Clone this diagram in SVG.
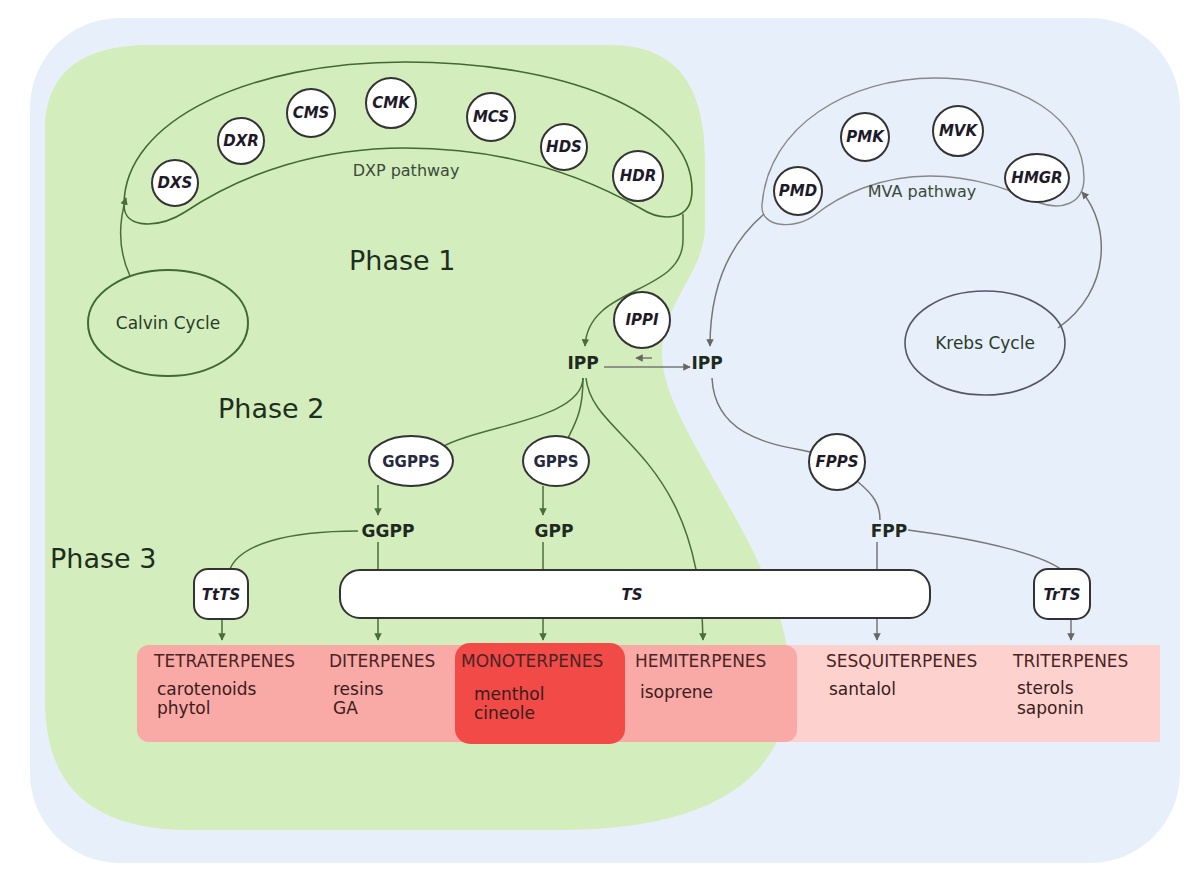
<svg xmlns="http://www.w3.org/2000/svg" width="1204" height="884" viewBox="0 0 1204 884">
<defs>
<marker id="ag" viewBox="0 0 10 10" refX="9" refY="5" markerWidth="5" markerHeight="5" orient="auto"><path d="M0,0 L10,5 L0,10 z" fill="#4a6e3a"/></marker>
<marker id="ab" viewBox="0 0 10 10" refX="9" refY="5" markerWidth="5" markerHeight="5" orient="auto"><path d="M0,0 L10,5 L0,10 z" fill="#666"/></marker>
<style>
.cg{fill:none;stroke:#4a6e3a;stroke-width:1.5}
.cb{fill:none;stroke:#777;stroke-width:1.5}
.enz{fill:#fff;stroke:#333;stroke-width:2}
.et{font-family:"DejaVu Sans",sans-serif;font-size:15px;font-weight:bold;font-style:italic;fill:#1e1a2a;text-anchor:middle}
.eu{font-family:"DejaVu Sans",sans-serif;font-size:15px;font-weight:bold;fill:#262a40;text-anchor:middle}
.met{font-family:"DejaVu Sans",sans-serif;font-size:17px;font-weight:bold;fill:#1e2a1e;text-anchor:middle}
.ph{font-family:"DejaVu Sans",sans-serif;font-size:27px;fill:#1e2e1e}
.sm{font-family:"DejaVu Sans",sans-serif;font-size:16px;fill:#3a4a3a;text-anchor:middle}
.cy{font-family:"DejaVu Sans",sans-serif;font-size:17px;fill:#2a3a2a;text-anchor:middle}
.hd{font-family:"DejaVu Sans",sans-serif;font-size:17px;fill:#4a2424}
.it{font-family:"DejaVu Sans",sans-serif;font-size:17px;fill:#3a1c1c}
</style>
</defs>
<rect x="0" y="0" width="1204" height="884" fill="#ffffff"/>
<g id="background">
<rect x="30" y="18" width="1150" height="845" rx="90" fill="#e7f0fa"/>
<path d="M 45 130 C 45 70 85 45 150 45 L 610 45 C 680 45 705 90 705 160 L 705 225 C 705 275 662 300 662 355 C 662 430 790 560 790 680 C 790 785 700 830 560 830 L 190 830 C 90 830 45 785 45 700 Z" fill="#d4edbd"/>
</g>
<g id="dxp-pathway">
<path d="M 124 205 C 124 120 250 62 405 62 C 560 62 692 110 692 190 C 692 222 662 222 640 208 C 570 168 490 148 405 148 C 320 148 245 172 185 212 C 160 228 124 230 124 205 Z" fill="none" stroke="#3f6a30" stroke-width="1.6"/>
<text class="sm" x="406" y="176">DXP pathway</text>
</g>
<g id="mva-pathway">
<path d="M 762 205 C 768 125 850 78 935 78 C 1020 78 1084 118 1084 178 C 1084 205 1060 210 1040 203 C 1010 190 975 176 930 176 C 880 176 840 195 815 215 C 795 230 760 228 762 205 Z" fill="none" stroke="#888" stroke-width="1.4"/>
<text class="sm" x="922" y="197" fill="#556">MVA pathway</text>
</g>
<g id="connectors">
<path class="cg" d="M 130 276 C 118 250 118 225 126 198" marker-end="url(#ag)"/>
<path class="cb" d="M 1058 328 C 1112 290 1110 225 1082 192" marker-end="url(#ab)"/>
<path class="cg" d="M 683 214 L 683 240 C 683 295 588 285 585 346" marker-end="url(#ag)"/>
<path class="cb" d="M 764 214 C 722 250 710 300 710 346" marker-end="url(#ab)"/>
<path class="cb" d="M 604 367 L 690 367" marker-end="url(#ab)"/>
<path class="cb" d="M 652 358 L 636 358" stroke-width="1" marker-end="url(#ab)"/>
<path class="cg" d="M 583 378 C 582 420 480 425 440 448"/>
<path class="cg" d="M 583 378 C 583 410 576 422 568 438"/>
<path class="cg" d="M 586 378 C 592 440 700 450 703 640" marker-end="url(#ag)"/>
<path class="cb" d="M 712 378 C 715 440 780 445 810 452"/>
<path class="cg" d="M 378 485 L 378 515" marker-end="url(#ag)"/>
<path class="cg" d="M 358 531 C 285 531 240 545 230 569"/>
<path class="cg" d="M 378 542 L 378 640" marker-end="url(#ag)"/>
<path class="cg" d="M 543 486 L 543 515" marker-end="url(#ag)"/>
<path class="cg" d="M 543 542 L 543 640" marker-end="url(#ag)"/>
<path class="cb" d="M 858 482 C 874 495 880 505 880 520"/>
<path class="cb" d="M 877 542 L 877 640" marker-end="url(#ab)"/>
<path class="cb" d="M 908 530 C 985 540 1042 555 1062 570"/>
<path class="cg" d="M 222 620 L 222 640" marker-end="url(#ag)"/>
<path class="cb" d="M 1071 620 L 1071 640" marker-end="url(#ab)"/>
</g>
<g id="dxs"><circle class="enz" cx="175" cy="183" r="23"/><text class="et" x="175" y="188">DXS</text></g>
<g id="dxr"><circle class="enz" cx="241" cy="141" r="23"/><text class="et" x="241" y="146">DXR</text></g>
<g id="cms"><circle class="enz" cx="311" cy="113" r="24"/><text class="et" x="311" y="118">CMS</text></g>
<g id="cmk"><circle class="enz" cx="391" cy="103" r="25"/><text class="et" x="391" y="108">CMK</text></g>
<g id="mcs"><circle class="enz" cx="491" cy="117" r="24"/><text class="et" x="491" y="122">MCS</text></g>
<g id="hds"><circle class="enz" cx="564" cy="147" r="23"/><text class="et" x="564" y="152">HDS</text></g>
<g id="hdr"><circle class="enz" cx="638" cy="176" r="25"/><text class="et" x="638" y="181">HDR</text></g>
<g id="pmd"><circle class="enz" cx="798" cy="191" r="24"/><text class="et" x="798" y="196">PMD</text></g>
<g id="pmk"><circle class="enz" cx="865" cy="137" r="24"/><text class="et" x="865" y="142">PMK</text></g>
<g id="mvk"><circle class="enz" cx="958" cy="131" r="25"/><text class="et" x="958" y="136">MVK</text></g>
<g id="hmgr"><ellipse class="enz" cx="1037" cy="178" rx="32" ry="24"/><text class="et" x="1037" y="183">HMGR</text></g>
<g id="calvin"><ellipse cx="168" cy="323" rx="80" ry="53" fill="none" stroke="#3f6a30" stroke-width="2"/><text class="cy" x="168" y="329">Calvin Cycle</text></g>
<g id="krebs"><ellipse cx="985" cy="343" rx="80" ry="52" fill="none" stroke="#556" stroke-width="1.6"/><text class="cy" x="985" y="349" fill="#2a2a3a">Krebs Cycle</text></g>
<g id="ippi"><circle class="enz" cx="642" cy="320" r="28"/><text class="et" x="642" y="325">IPPI</text></g>
<g id="ipp-plastid"><text class="met" x="583" y="369">IPP</text></g>
<g id="ipp-cytosol"><text class="met" x="707" y="369">IPP</text></g>
<g id="phases">
<text class="ph" x="349" y="270">Phase 1</text>
<text class="ph" x="218" y="418">Phase 2</text>
<text class="ph" x="50" y="568">Phase 3</text>
</g>
<g id="ggpps"><ellipse class="enz" cx="411" cy="461" rx="42" ry="25"/><text class="eu" x="411" y="467">GGPPS</text></g>
<g id="gpps"><ellipse class="enz" cx="556" cy="461" rx="33" ry="25"/><text class="eu" x="556" y="467">GPPS</text></g>
<g id="fpps"><circle class="enz" cx="837" cy="462" r="28"/><text class="et" x="837" y="467">FPPS</text></g>
<g id="ggpp"><text class="met" x="388" y="537">GGPP</text></g>
<g id="gpp"><text class="met" x="554" y="537">GPP</text></g>
<g id="fpp"><text class="met" x="889" y="537">FPP</text></g>
<g id="ttts"><rect class="enz" x="194" y="569" width="54" height="50" rx="14"/><text class="et" x="221" y="600">TtTS</text></g>
<g id="ts"><rect class="enz" x="340" y="570" width="590" height="48" rx="20"/><text class="et" x="632" y="600">TS</text></g>
<g id="trts"><rect class="enz" x="1034" y="569" width="56" height="50" rx="14"/><text class="et" x="1062" y="600">TrTS</text></g>
<g id="products">
<rect x="780" y="645" width="380" height="97" fill="#fdd2ce"/>
<rect x="137" y="645" width="660" height="97" rx="12" fill="#f9a9a6"/>
<rect x="455" y="643" width="170" height="101" rx="15" fill="#f14a47"/>
<text class="hd" x="154" y="667">TETRATERPENES</text>
<text class="it" x="157" y="695">carotenoids</text>
<text class="it" x="157" y="714">phytol</text>
<text class="hd" x="329" y="667">DITERPENES</text>
<text class="it" x="333" y="695">resins</text>
<text class="it" x="333" y="714">GA</text>
<text class="hd" x="461" y="667" fill="#6a1212">MONOTERPENES</text>
<text class="it" x="474" y="700" fill="#5a1010">menthol</text>
<text class="it" x="474" y="719" fill="#5a1010">cineole</text>
<text class="hd" x="635" y="667">HEMITERPENES</text>
<text class="it" x="640" y="698">isoprene</text>
<text class="hd" x="826" y="667">SESQUITERPENES</text>
<text class="it" x="829" y="695">santalol</text>
<text class="hd" x="1013" y="667">TRITERPENES</text>
<text class="it" x="1017" y="694">sterols</text>
<text class="it" x="1017" y="714">saponin</text>
</g>
</svg>
